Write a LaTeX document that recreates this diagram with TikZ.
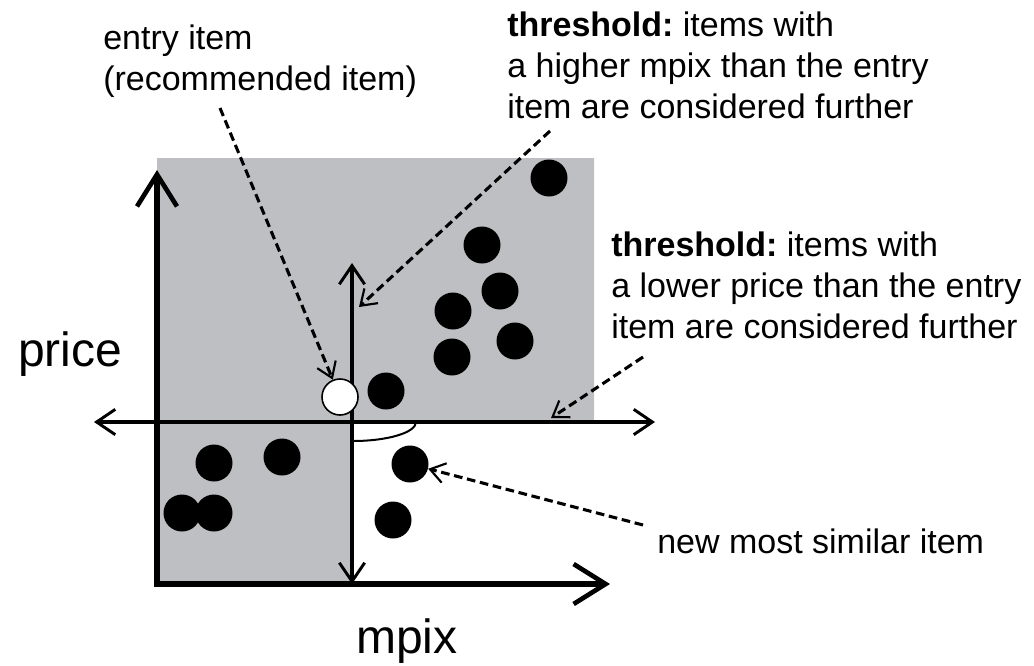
\documentclass[tikz,border=0pt]{standalone}
\usepackage{fontspec}
\setmainfont{Liberation Sans}
\usetikzlibrary{arrows.meta}
\definecolor{bggray}{RGB}{190,191,194}
\begin{document}
\frenchspacing
\begin{tikzpicture}[x=0.75pt,y=-0.75pt,
  mainaxis/.style={line width=4.5pt,{Straight Barb[length=24pt,width=30pt,line width=3.5pt]}-{Straight Barb[length=24pt,width=30pt,line width=3.5pt]}},
  thraxis/.style={line width=3.5pt,{Straight Barb[length=14pt,width=19pt,line width=2.2pt]}-{Straight Barb[length=14pt,width=19pt,line width=2.2pt]}},
  callout/.style={line width=2.3pt,dash pattern=on 6.5pt off 3.5pt,-{Straight Barb[length=11pt,width=15pt,line width=1.6pt]}},
  blackdot/.style={circle,fill=black,inner sep=0pt,minimum size=27.75pt},
  whitedot/.style={circle,fill=white,draw=black,line width=1.2pt,inner sep=0pt,minimum size=27pt},
  txt/.style={font=\fontsize{25.5}{30.75}\selectfont,inner sep=0pt,align=left,anchor=base west},
  biglbl/.style={font=\fontsize{36}{40}\selectfont,inner sep=0pt,anchor=base west}]
\useasboundingbox (0,0) rectangle (1034,665);
% gray regions
\fill[bggray] (157,158) -- (594,158) -- (594,422) -- (352,422) -- (352,584) -- (157,584) -- cycle;
% main axes
\coordinate (ytop) at (157,170);
\coordinate (orig) at (157,584);
\coordinate (xend) at (610,584);
\draw[mainaxis] (ytop) -- (orig) -- (xend);
% threshold axes
\coordinate (hl) at (94,422);
\coordinate (hr) at (655,422);
\coordinate (vt) at (352,263);
\coordinate (vb) at (352,584);
\draw[thraxis] (hl) -- (hr);
\draw[thraxis] (vt) -- (vb);
% arc
\draw[line width=1.5pt] (353,441) arc[start angle=90,end angle=0,x radius=63,y radius=19];
% items
\node[blackdot] (d1) at (549,178) {};
\node[blackdot] (d2) at (482,245) {};
\node[blackdot] (d3) at (500,291) {};
\node[blackdot] (d4) at (453,311) {};
\node[blackdot] (d5) at (515,341) {};
\node[blackdot] (d6) at (452,357) {};
\node[blackdot] (d7) at (386,391) {};
\node[blackdot] (d8) at (214,463) {};
\node[blackdot] (d9) at (282,457) {};
\node[blackdot] (d10) at (182,513) {};
\node[blackdot] (d11) at (214,513) {};
\node[blackdot] (newsim) at (410,464) {};
\node[blackdot] (d13) at (393,520) {};
\node[whitedot] (entry) at (340,397) {};
% labels (anchor = baseline of the last line)
\node[txt] (entrylbl) at (103,90) {entry item\\(recommended item)};
\node[txt] (thr1) at (507,118) {\textbf{threshold:} items with\\a higher mpix than the entry\\item are considered further};
\node[txt] (thr2) at (611,338) {\textbf{threshold:} items with\\a lower price than the entry\\item are considered further};
\node[txt] (newlbl) at (657,553) {new most similar item};
\node[biglbl] (pricelbl) at (18,366) {price};
\node[biglbl] (mpixlbl) at (356,653) {mpix};
% callouts
\coordinate (s1) at (220,108);
\coordinate (s2) at (550,131);
\coordinate (t2) at (359,307);
\coordinate (s3) at (643,357);
\coordinate (t3) at (551,418);
\coordinate (s4) at (643,525);
\draw[callout] (s1) -- (entry);
\draw[callout] (s2) -- (t2);
\draw[callout] (s3) -- (t3);
\draw[callout] (s4) -- (newsim);
\end{tikzpicture}
\end{document}
